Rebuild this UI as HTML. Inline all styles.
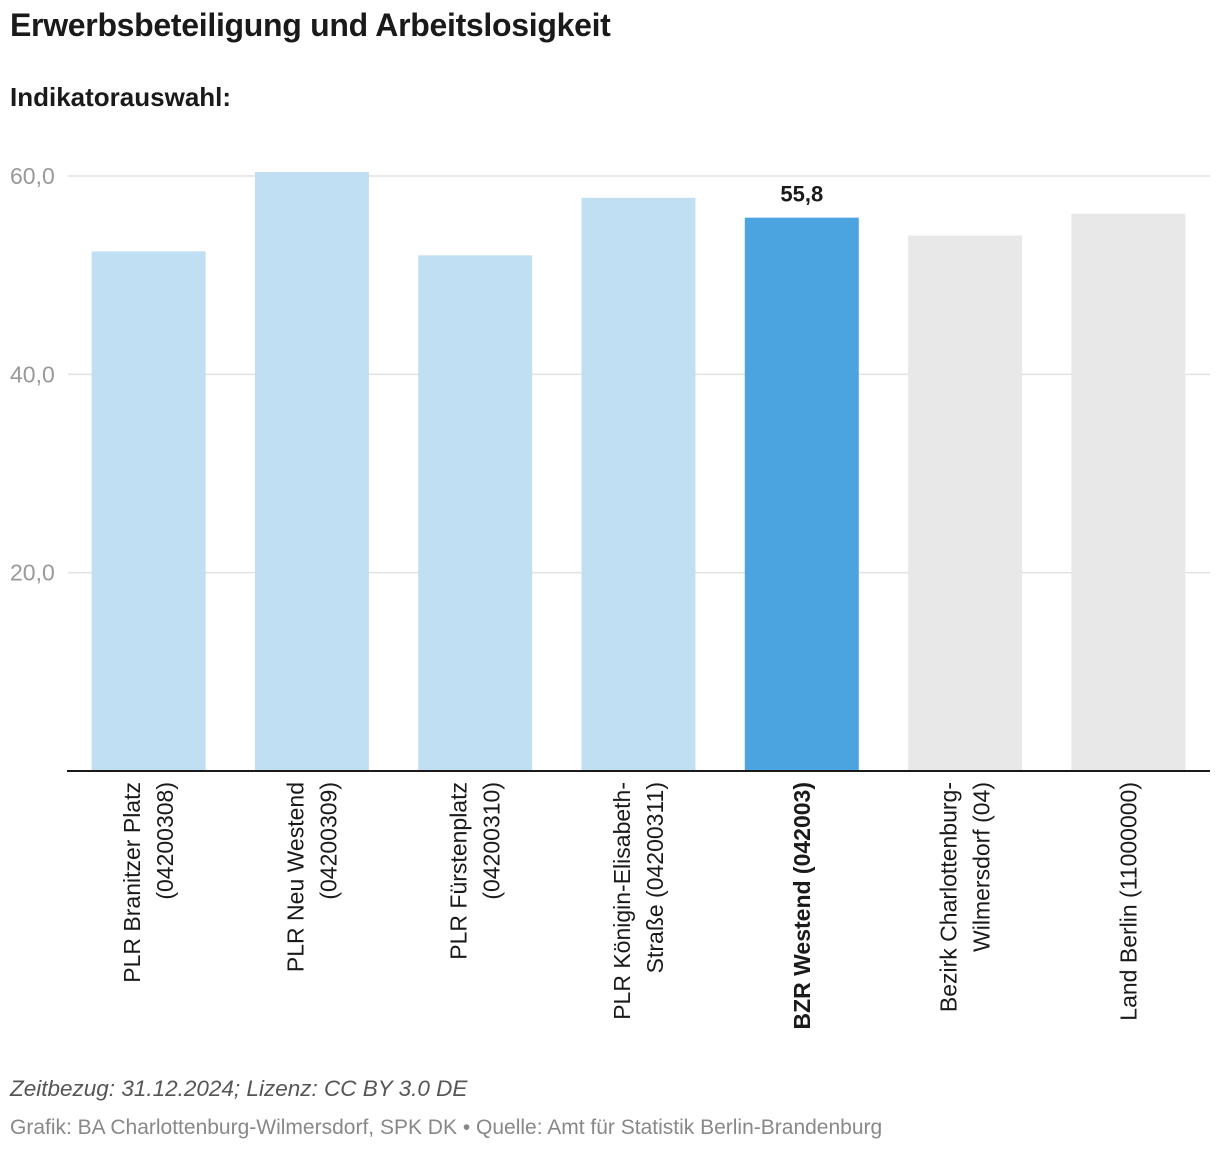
<!DOCTYPE html>
<html><head><meta charset="utf-8">
<style>
body{margin:0;background:#fff;font-family:"Liberation Sans",sans-serif;}
#wrap{position:relative;width:1220px;height:1154px;overflow:hidden}
h1{position:absolute;left:10px;top:7px;margin:0;font-size:32px;font-weight:bold;color:#1a1a1a;letter-spacing:-0.3px}
h2{position:absolute;left:10px;top:82px;margin:0;font-size:26px;font-weight:bold;color:#1a1a1a}
.foot1{position:absolute;left:10px;top:1076px;font-size:22.5px;font-style:italic;color:#555}
.foot2{position:absolute;left:10px;top:1116px;font-size:21px;color:#888}
</style></head><body>
<div id="wrap">
<h1>Erwerbsbeteiligung und Arbeitslosigkeit</h1>
<h2>Indikatorauswahl:</h2>
<svg id="chart" width="1220" height="1154" style="position:absolute;left:0;top:0"></svg>
<div class="foot1">Zeitbezug: 31.12.2024; Lizenz: CC BY 3.0 DE</div>
<div class="foot2">Grafik: BA Charlottenburg-Wilmersdorf, SPK DK • Quelle: Amt für Statistik Berlin-Brandenburg</div>
</div>
<script>
const categories=[["PLR Branitzer Platz","(04200308)"],["PLR Neu Westend","(04200309)"],["PLR Fürstenplatz","(04200310)"],["PLR Königin-Elisabeth-","Straße (04200311)"],["BZR Westend (042003)"],["Bezirk Charlottenburg-","Wilmersdorf (04)"],["Land Berlin (11000000)"]];
const values=[52.4,60.4,52.0,57.8,55.8,54.0,56.2];
const kinds=["plr","plr","plr","plr","bzr","ref","ref"];
const ticks=[20,40,60];
const tickLabels=["20,0","40,0","60,0"];
const NS="http://www.w3.org/2000/svg";
const svg=document.getElementById('chart');
const x0=67,x1=1210,y0=771,yTop=176;
const y=v=>y0-(y0-yTop)*v/60;
const band=(x1-x0)/categories.length,bw=114;
const bx=i=>x0+band*i+(band-bw)/2;
function mk(t,a){const e=document.createElementNS(NS,t);for(const k in a)e.setAttribute(k,a[k]);svg.appendChild(e);return e;}
ticks.forEach((t,i)=>{
 const l=mk('line',{x1:68,x2:1210,y1:y(t),y2:y(t),stroke:'#e2e2e2','stroke-width':1.5});
 
 
 const tx=mk('text',{x:10,y:y(t)+8,'font-size':23,fill:'#999','font-family':'Liberation Sans, sans-serif'});
 tx.textContent=tickLabels[i];
 
 
});
const colors={plr:'#c1dff2',bzr:'#4ba3e0',ref:'#e8e8e8'};
values.forEach((v,i)=>{
 const r=mk('rect',{x:bx(i),y:y(v),width:bw,height:y0-y(v),fill:colors[kinds[i]]});
 
 
 const cx=bx(i)+bw/2;
 const lines=categories[i];
 const bold=kinds[i]==='bzr';
 lines.forEach((s,j)=>{
  const off=(j-(lines.length-1)/2)*33+8;
  const tx=mk('text',{x:0,y:0,'font-size':23,fill:'#1a1a1a','text-anchor':'end','font-weight':bold?'bold':'normal','font-family':'Liberation Sans, sans-serif',transform:`translate(${cx+off},${782}) rotate(-90)`});
  tx.textContent=s;
  
  
 });
 if(bold){
  const vl=mk('text',{x:cx,y:y(v)-16,'font-size':22,'font-weight':'bold','text-anchor':'middle',fill:'#1a1a1a','font-family':'Liberation Sans, sans-serif'});
  vl.textContent=String(v).replace('.',',');
  
  
 }
});
const ax=mk('line',{x1:67,x2:1210,y1:y0,y2:y0,stroke:'#1a1a1a','stroke-width':2});


</script>
</body></html>
